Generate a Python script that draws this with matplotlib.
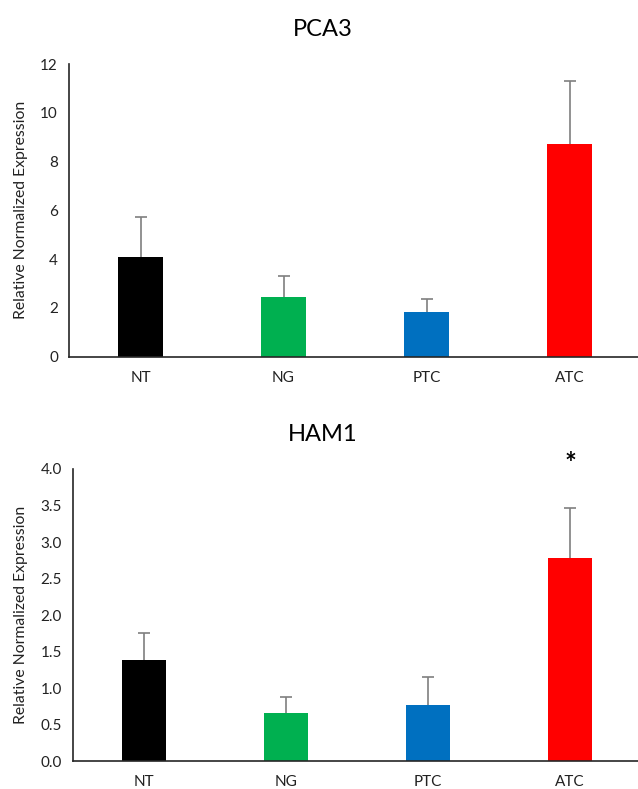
import numpy as np
import matplotlib
matplotlib.use('Agg')
import matplotlib.pyplot as plt

plt.rcParams['font.family'] = ['Lato', 'DejaVu Sans']

# data
groups = ['NT', 'NG', 'PTC', 'ATC']
colors = ['#000000', '#00B050', '#0070C0', '#FF0000']

pca3_mean = [4.09, 2.45, 1.83, 8.72]
pca3_err = [1.65, 0.85, 0.55, 2.60]

ham1_mean = [1.39, 0.66, 0.77, 2.78]
ham1_err = [0.37, 0.22, 0.39, 0.68]

fig = plt.figure(figsize=(6.38, 7.89), dpi=100)
W, H = 638, 789

ax1 = fig.add_axes([69 / W, (H - 356.7) / H, 572 / W, 292.7 / H])
ax2 = fig.add_axes([73 / W, (H - 761.3) / H, 568 / W, 292.3 / H])


def draw(ax, means, errs, title, ylim, yticks, fmt):
    x = np.arange(len(groups))
    ax.bar(x, means, width=0.315, color=colors, zorder=2)
    eb = ax.errorbar(x, means, yerr=[np.zeros(len(errs)), errs], fmt='none',
                     ecolor='#7f7f7f', elinewidth=1.2, capsize=4.5, capthick=1.2, zorder=1)
    eb[1][0].set_visible(False)  # no cap at the bar top
    ax.set_xlim(-0.5, len(groups) - 0.5)
    ax.set_ylim(*ylim)
    ax.set_yticks(yticks)
    ax.set_yticklabels([fmt.format(v) for v in yticks])
    ax.set_xticks(x)
    ax.set_xticklabels(groups)
    ax.tick_params(axis='both', length=0, labelsize=11, colors='#222222', pad=10)
    ax.tick_params(axis='y', pad=8)
    for s in ['top', 'right']:
        ax.spines[s].set_visible(False)
    for s in ['left', 'bottom']:
        ax.spines[s].set_color('#262626')
        ax.spines[s].set_linewidth(1.2)
    ax.set_ylabel('Relative Normalized Expression', fontsize=11.3, color='#222222', labelpad=9)
    # title is centred on the whole chart area, not the plot area
    ax.set_title(title, fontsize=17, pad=20, x=(323 - ax.get_position().x0 * W) / (ax.get_position().width * W))


draw(ax1, pca3_mean, pca3_err, 'PCA3', (0, 12), [0, 2, 4, 6, 8, 10, 12], '{:.0f}')
draw(ax2, ham1_mean, ham1_err, 'HAM1', (0, 4), [0, 0.5, 1, 1.5, 2, 2.5, 3, 3.5, 4], '{:.1f}')

ax2.text(3, 4.07, '*', ha='center', va='center', fontsize=20, fontweight='bold', clip_on=False)

fig.savefig('out.png', dpi=100)
